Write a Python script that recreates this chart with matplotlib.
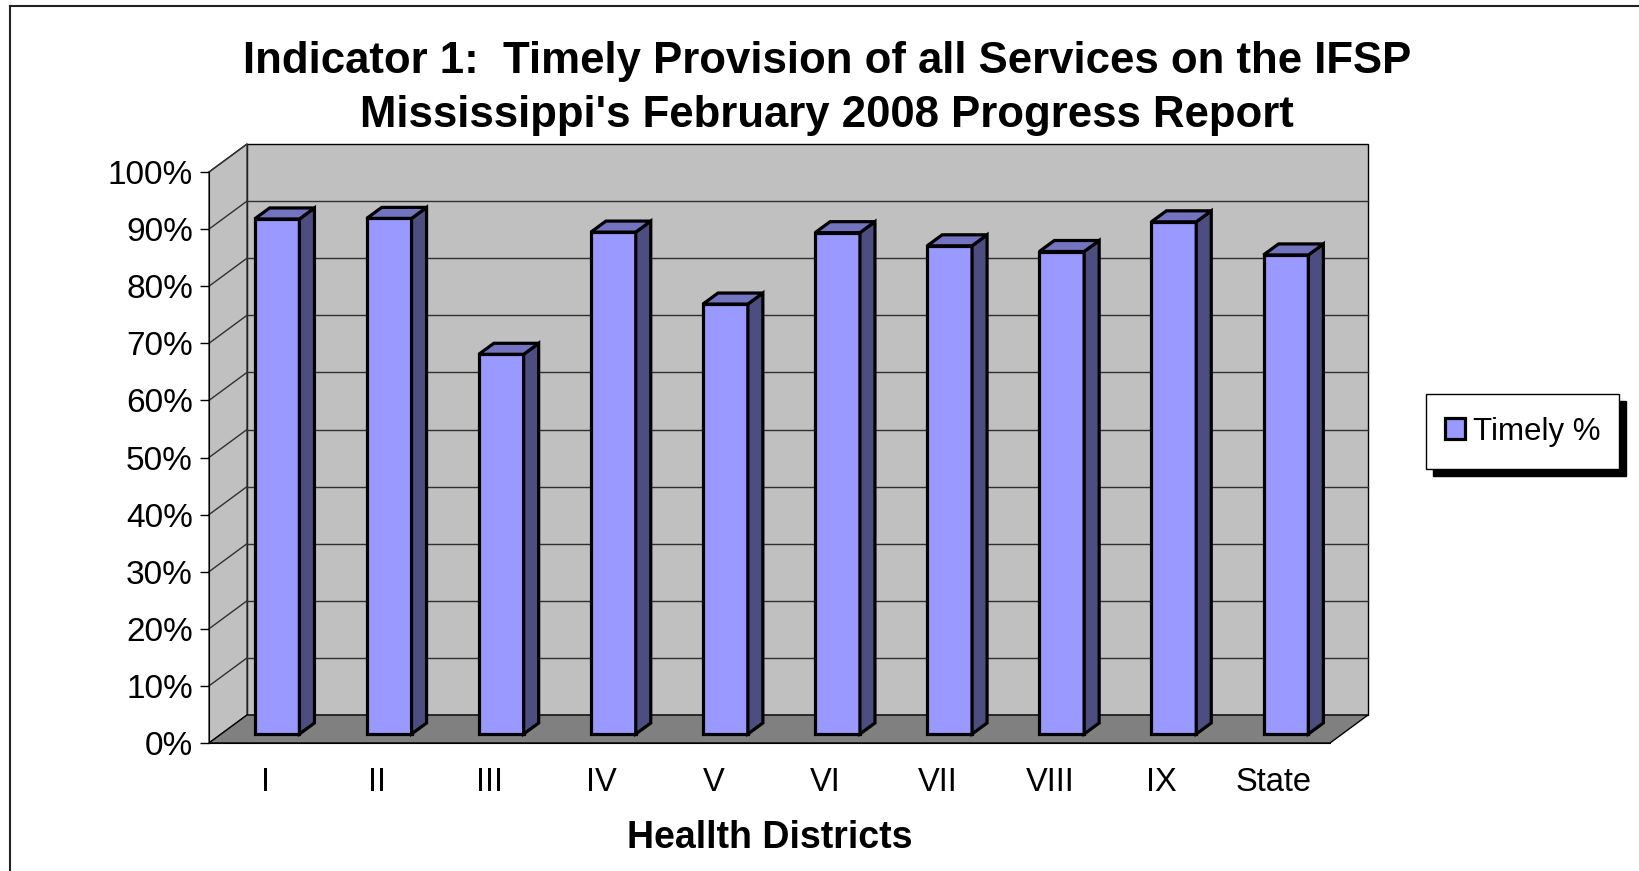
import matplotlib
matplotlib.use("Agg")
import matplotlib.pyplot as plt
import numpy as np
from matplotlib.patches import Polygon, Rectangle
from matplotlib.lines import Line2D

plt.rcParams['font.family'] = ['Liberation Sans', 'DejaVu Sans']

# data
districts = ['I', 'II', 'III', 'IV', 'V', 'VI', 'VII', 'VIII', 'IX', 'State']
timely = [90.2, 90.3, 66.5, 87.9, 75.3, 87.8, 85.5, 84.5, 89.7, 83.9]
yticks = [0, 10, 20, 30, 40, 50, 60, 70, 80, 90, 100]
ylabels = ['%d%%' % t for t in yticks]

W, H = 1640, 871
fig = plt.figure(figsize=(W / 100, H / 100), dpi=100)

# front plane of the plot (pixels)
x0, x1, y0, y100 = 209, 1330, 743, 172
ax = fig.add_axes([x0 / W, 1 - y0 / H, (x1 - x0) / W, (y0 - y100) / H])
n = len(districts)
ax.set_xlim(0, n)
ax.set_ylim(0, 100)
ax.patch.set_visible(False)


def off(px_dx, px_dy):
    # pixel offset -> data offset (oblique depth)
    return px_dx * n / (x1 - x0), px_dy * 100 / (y0 - y100)


DX, DY = off(38, 28)   # back wall
FX, FY = off(12, 9)    # bar front plane
BX, BY = off(27, 20)   # bar back plane
SX, SY = BX - FX, BY - FY

wall = '#c0c0c0'
floor = '#808080'
grid_c = '#303030'

# back wall
ax.add_patch(Polygon([(DX, DY), (n + DX, DY), (n + DX, 100 + DY), (DX, 100 + DY)],
                     closed=True, fc=wall, ec='black', lw=1.0, clip_on=False, zorder=0))
# side wall
ax.add_patch(Polygon([(0, 0), (DX, DY), (DX, 100 + DY), (0, 100)],
                     closed=True, fc=wall, ec=grid_c, lw=1.0, clip_on=False, zorder=0))
# floor
ax.add_patch(Polygon([(0, 0), (n, 0), (n + DX, DY), (DX, DY)],
                     closed=True, fc=floor, ec='black', lw=1.0, clip_on=False, zorder=0.5))

# gridlines on walls
for t in yticks[1:-1]:
    ax.add_line(Line2D([DX, n + DX], [t + DY, t + DY], color=grid_c, lw=1.0,
                       clip_on=False, zorder=0.8))
for t in yticks[1:]:
    ax.add_line(Line2D([0, DX], [t, t + DY], color=grid_c, lw=1.0,
                       clip_on=False, zorder=0.8))

# bars
xs = np.arange(n) + 0.5
bw = 0.4
front = '#9999ff'
side = '#4d4d80'
top = '#7373bf'
ax.bar(xs + FX, timely, width=bw, bottom=FY, color=front, edgecolor='black',
       linewidth=2.3, zorder=3, clip_on=False, label='Timely %')
for xc, v in zip(xs + FX, timely):
    xl, xr = xc - bw / 2, xc + bw / 2
    ax.add_patch(Polygon([(xr, FY), (xr + SX, FY + SY), (xr + SX, FY + SY + v), (xr, FY + v)],
                         closed=True, fc=side, ec='black', lw=2.3, zorder=3, clip_on=False,
                         joinstyle='miter'))
    ax.add_patch(Polygon([(xl, FY + v), (xr, FY + v), (xr + SX, FY + v + SY), (xl + SX, FY + v + SY)],
                         closed=True, fc=top, ec='black', lw=2.3, zorder=3, clip_on=False,
                         joinstyle='miter'))

# axes
for s in ['top', 'right']:
    ax.spines[s].set_visible(False)
ax.spines['left'].set_color('black')
ax.spines['bottom'].set_color('black')
ax.spines['left'].set_zorder(2)
ax.spines['bottom'].set_zorder(2)
ax.set_yticks(yticks)
ax.set_yticklabels(ylabels, fontsize=24)
ax.tick_params(axis='y', direction='out', length=6.5, width=1, pad=5, colors='black')
ax.set_xticks(xs)
ax.set_xticklabels(districts, fontsize=23.5)
ax.tick_params(axis='x', length=0, pad=17)
ax.set_xlabel('Heallth Districts', fontsize=27, fontweight='bold', labelpad=16)

# title
fig.text(827 / W, 1 - 62 / H, 'Indicator 1:  Timely Provision of all Services on the IFSP',
         ha='center', va='center', fontsize=31.5, fontweight='bold')
fig.text(827 / W, 1 - 115 / H, "Mississippi's February 2008 Progress Report",
         ha='center', va='center', fontsize=31.5, fontweight='bold')

# legend box with hard shadow
lx0, lx1, ly0, ly1 = 1426, 1619, 394, 469
fig.patches.append(Rectangle(((lx0 + 7) / W, 1 - (ly1 + 7) / H), (lx1 - lx0) / W, (ly1 - ly0) / H,
                             transform=fig.transFigure, fc='black', ec='black', zorder=1))
fig.patches.append(Rectangle((lx0 / W, 1 - ly1 / H), (lx1 - lx0) / W, (ly1 - ly0) / H,
                             transform=fig.transFigure, fc='white', ec='black', lw=1, zorder=2))
fig.legend(handles=ax.containers[0][:1], labels=['Timely %'], loc='center',
           bbox_to_anchor=((lx0 + lx1) / 2 / W, 1 - (ly0 + ly1) / 2 / H),
           frameon=False, fontsize=22.5, handlelength=0.64, handleheight=0.64,
           handletextpad=0.25)

# outer border (top and left visible)
fig.add_artist(Line2D([10 / W, 1], [1 - 6 / H, 1 - 6 / H], transform=fig.transFigure,
                      color='#222222', lw=1.5))
fig.add_artist(Line2D([10 / W, 10 / W], [0, 1 - 6 / H], transform=fig.transFigure,
                      color='#222222', lw=1.5))

fig.savefig('out.png', dpi=100, facecolor='white')
